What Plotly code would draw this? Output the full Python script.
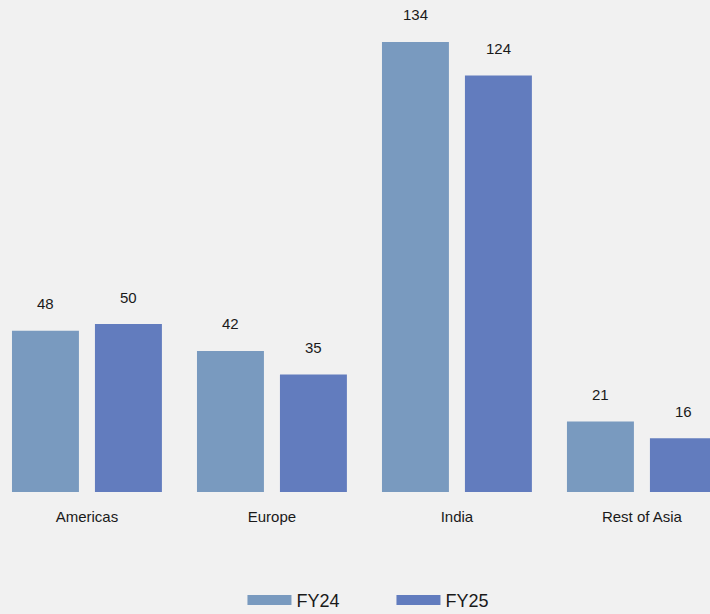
import plotly.graph_objects as go

categories = ["Americas", "Europe", "India", "Rest of Asia"]
fy24 = [48, 42, 134, 21]
fy25 = [50, 35, 124, 16]
series_names = ["FY24", "FY25"]
colors = ["#799abf", "#627cbe"]

fig = go.Figure()
for name, vals, col in zip(series_names, [fy24, fy25], colors):
    fig.add_trace(go.Bar(x=categories, y=vals, name=name, marker_color=col,
                         marker_line_width=0, hoverinfo="skip", showlegend=False))
    # legend-only entry with a wide swatch
    fig.add_trace(go.Scatter(x=[None], y=[None], mode="lines", name=name,
                             line=dict(color=col, width=11), hoverinfo="skip"))

# value labels above bars
for shift, vals in zip([-41.5, 41.5], [fy24, fy25]):
    for c, v in zip(categories, vals):
        fig.add_annotation(x=c, y=v, text=str(v), showarrow=False, xref="x", yref="y",
                           xshift=shift, yshift=27, yanchor="middle",
                           font=dict(size=15, color="#1a1a1a"))

fig.update_layout(
    width=710, height=614,
    paper_bgcolor="#f1f1f1", plot_bgcolor="#f1f1f1",
    margin=dict(l=0, r=0, t=0, b=122, autoexpand=False),
    barmode="group", bargap=0.103, bargroupgap=0.193,
    font=dict(family="Liberation Sans, Arial, sans-serif", size=15, color="#1a1a1a"),
    xaxis=dict(range=[-0.47, 3.368], showgrid=False, zeroline=False, showline=False,
               ticks="", tickfont=dict(size=15), ticklabelstandoff=14, automargin=False),
    yaxis=dict(range=[0, 146.5], visible=False, automargin=False),
    showlegend=True,
    legend=dict(orientation="h", x=0.3415, xanchor="left", y=-0.22, yanchor="middle",
                font=dict(size=18), bgcolor="rgba(0,0,0,0)", itemwidth=44,
                entrywidth=90, entrywidthmode="pixels", traceorder="normal"),
)

fig.write_html("out.html")
